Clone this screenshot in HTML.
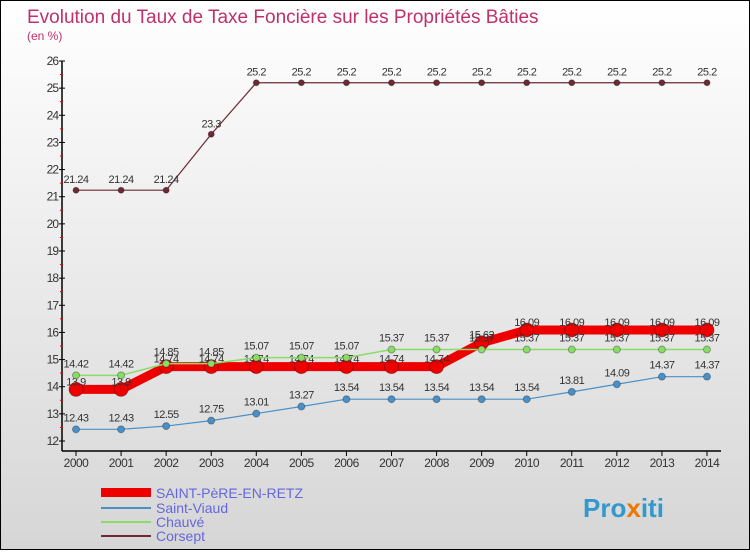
<!DOCTYPE html>
<html><head><meta charset="utf-8">
<style>
body{margin:0;width:750px;height:550px;overflow:hidden;font-family:"Liberation Sans",sans-serif}
#wrap{position:relative;width:748px;height:548px;border:1px solid #000;background:linear-gradient(#ffffff,#d6d6d6)}
</style></head>
<body>
<div id="wrap">
<svg id="chart" width="748" height="548">
<text x="26" y="22" font-size="19" fill="#c0306a">Evolution du Taux de Taxe Foncière sur les Propriétés Bâties</text>
<text x="26" y="39" font-size="12" fill="#c0306a">(en %)</text>
<g id="axes"></g>
<g id="series"></g>
<g id="legend" font-size="14">
<rect x="100" y="487" width="50" height="9" fill="#ee0000"/>
<text x="155" y="497" fill="#6666dd">SAINT-PèRE-EN-RETZ</text>
<line x1="100" y1="507" x2="150" y2="507" stroke="#4a90c8" stroke-width="2"/>
<text x="155" y="512" fill="#6666dd">Saint-Viaud</text>
<line x1="100" y1="521" x2="150" y2="521" stroke="#88dd66" stroke-width="2"/>
<text x="155" y="526" fill="#6666dd">Chauvé</text>
<line x1="100" y1="535" x2="150" y2="535" stroke="#6b2a35" stroke-width="2"/>
<text x="155" y="540" fill="#6666dd">Corsept</text>
</g>
<text x="582" y="516" font-size="26" font-weight="bold" fill="#3399cc">Pro<tspan fill="#ee7700">x</tspan>iti</text>
</svg>
</div>
<script>
const years=[2000,2001,2002,2003,2004,2005,2006,2007,2008,2009,2010,2011,2012,2013,2014];
const yTicks=[12,13,14,15,16,17,18,19,20,21,22,23,24,25,26];
const saintPere=[13.9,13.9,14.74,14.74,14.74,14.74,14.74,14.74,14.74,15.62,16.09,16.09,16.09,16.09,16.09];
const saintViaud=[12.43,12.43,12.55,12.75,13.01,13.27,13.54,13.54,13.54,13.54,13.54,13.81,14.09,14.37,14.37];
const chauve=[14.42,14.42,14.85,14.85,15.07,15.07,15.07,15.37,15.37,15.37,15.37,15.37,15.37,15.37,15.37];
const corsept=[21.24,21.24,21.24,23.3,25.2,25.2,25.2,25.2,25.2,25.2,25.2,25.2,25.2,25.2,25.2];
const NS="http://www.w3.org/2000/svg";
function xS(i){return 75+i*(706-75)/(years.length-1);}
function yS(v){return 440-(v-12)*(380/14);}
function mk(tag,attrs,parent){const e=document.createElementNS(NS,tag);for(const k in attrs)e.setAttribute(k,attrs[k]);parent.appendChild(e);return e;}
const ax=document.getElementById('axes');
const yl=mk('line',{x1:61,y1:yS(26),x2:61,y2:450,stroke:'#000','stroke-width':1.5},ax);


const xl=mk('line',{x1:61,y1:450,x2:720,y2:450,stroke:'#000','stroke-width':1.5},ax);


yTicks.forEach(t=>{
  const y=yS(t);
  mk('line',{x1:58,y1:y,x2:64,y2:y,stroke:'#000'},ax);
  if(t<26) mk('line',{x1:59,y1:y-13.6,x2:62,y2:y-13.6,stroke:'#e00'},ax);
  const tx=mk('text',{x:57,y:y+4,'font-size':12,'text-anchor':'end',fill:'#333','letter-spacing':'-1'},ax);
  tx.textContent=t;
  
  
});
years.forEach((yr,i)=>{
  const x=xS(i);
  mk('line',{x1:x,y1:450,x2:x,y2:455,stroke:'#000'},ax);
  const tx=mk('text',{x:x,y:466,'font-size':12,'text-anchor':'middle',fill:'#333','letter-spacing':'-0.5'},ax);
  tx.textContent=yr;
  
  
});
const sg=document.getElementById('series');
function draw(vals,color,w,r,name,labelDy){
  const g=mk('g',{},sg);
  
  
  const pl=mk('polyline',{points:vals.map((v,i)=>xS(i)+','+yS(v)).join(' '),fill:'none',stroke:color,'stroke-width':w,'stroke-linejoin':'round'},g);
  
  
  vals.forEach((v,i)=>{
    const c=mk('circle',{cx:xS(i),cy:yS(v),r:r,fill:color,stroke:'rgba(0,0,0,0.3)'},g);
    
    
    const t=mk('text',{x:xS(i),y:yS(v)-labelDy,'font-size':11,'text-anchor':'middle',fill:'#333','letter-spacing':'-0.5'},g);
    t.textContent=v;
    
    
  });
}
draw(corsept,'#6b2a35',1.2,3,'corsept',7);
draw(saintViaud,'#4a90c8',1.2,3.5,'saint-viaud',8);
draw(saintPere,'#ee0000',9,7,'saint-pere',4);
draw(chauve,'#88dd66',1.5,3.5,'chauve',8);
</script>
</body></html>
